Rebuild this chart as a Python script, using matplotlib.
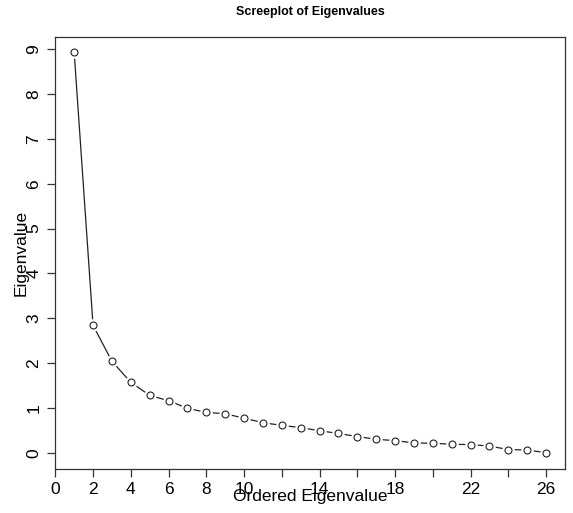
import matplotlib
matplotlib.use("Agg")
import matplotlib.pyplot as plt
import numpy as np

plt.rcParams['font.family'] = ['Liberation Sans', 'DejaVu Sans']

# eigenvalues
order = np.arange(1, 27)
eigen = [8.93, 2.84, 2.04, 1.57, 1.28, 1.16, 0.99, 0.90, 0.87, 0.77,
         0.67, 0.61, 0.56, 0.49, 0.43, 0.36, 0.30, 0.27, 0.22, 0.21,
         0.19, 0.18, 0.15, 0.07, 0.06, 0.00]

xticks = np.arange(0, 27, 2)
xticklabels = ['0', '2', '4', '6', '8', '10', '', '14', '', '18', '', '22', '', '26']
yticks = np.arange(0, 10)

W, H = 573, 513
fig = plt.figure(figsize=(W / 100, H / 100), dpi=100)
ax = fig.add_axes([55.3 / W, 1 - 469 / H, (565 - 55.3) / W, (469 - 37) / H])

# R type="b": line with gaps around the points
ax.plot(order, eigen, color='#222222', lw=0.9, zorder=1)
ax.plot(order, eigen, 'o', ms=9, mfc='white', mec='none', zorder=2)
ax.plot(order, eigen, 'o', ms=5, mfc='white', mec='#222222', mew=0.8, zorder=3)

ax.set_xlim(0, 27)
ax.set_ylim(-0.363, 9.274)
ax.set_xticks(xticks)
ax.set_xticklabels(xticklabels, fontsize=12.5)
ax.set_yticks(yticks)
ax.set_yticklabels([str(v) for v in yticks], fontsize=12.5, rotation=90, va='center')
ax.tick_params(axis='both', direction='out', length=6, width=0.9, color='#333333')
ax.tick_params(axis='x', pad=3)
ax.tick_params(axis='y', pad=4)
for s in ax.spines.values():
    s.set_linewidth(0.9)
    s.set_color('#333333')

fig.text(310 / W, 1 - 497 / H, 'Ordered Eigenvalue', ha='center', va='center', fontsize=12.5)
fig.text(21 / W, 1 - 253 / H, 'Eigenvalue', ha='center', va='center', rotation=90, fontsize=12.5)
fig.text(310 / W, 1 - 12 / H, 'Screeplot of Eigenvalues', ha='center', va='center',
         fontsize=9, fontweight='bold')

fig.savefig('out.png', dpi=100)
